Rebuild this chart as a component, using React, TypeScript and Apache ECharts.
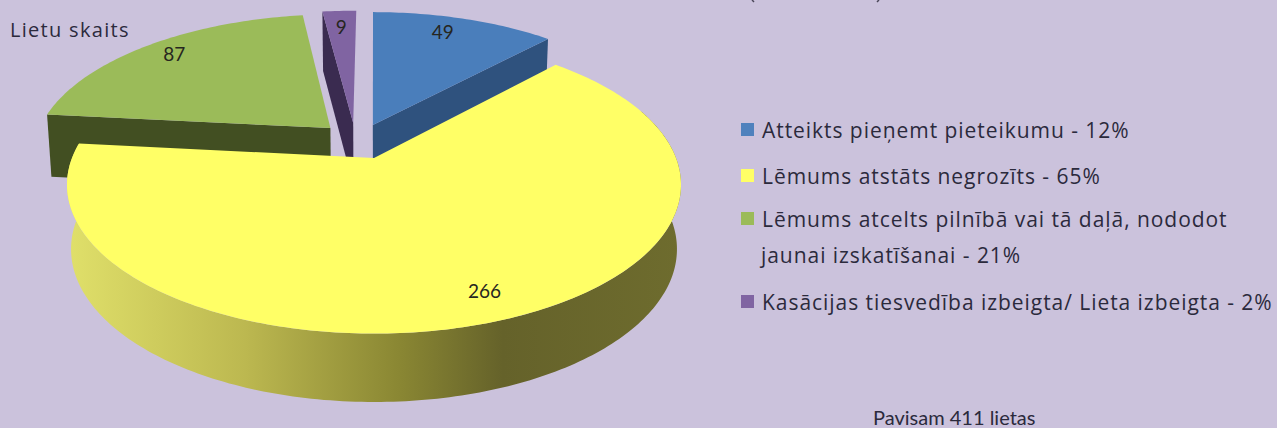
import React, { useEffect, useRef } from "react";
import * as echarts from "echarts";

const categories = [
  "Atteikts pieņemt pieteikumu - 12%",
  "Lēmums atstāts negrozīts - 65%",
  "Lēmums atcelts pilnībā vai tā daļā, nododot",
  "Kasācijas tiesvedība izbeigta/ Lieta izbeigta - 2%",
];
const continuationLine = "jaunai izskatīšanai - 21%";
const values = [49, 266, 87, 9];
const totalLabel = "Pavisam 411 lietas";
const axisCaption = "Lietu skaits";

const topColors = ["#4a7ebb", "#ffff66", "#9bbb59", "#8064a2"];
const wallColors = ["#2f527e", "#6b692e", "#424f22", "#3a2b50"];
// explosion offset of each slice on the disc plane; yellow is the reference
const offsets = [
  [-0.004, 0.239],
  [0, 0],
  [-0.15, 0.216],
  [-0.072, 0.254],
];
const labelTurn = [-2.6, -1.1, 1.4, 0];
const labelRadius = [0.85, 0.85, 0.87, 0.84];
const wallEdge = ["end", "arc", "start", "start"];
const drawOrder = [3, 2, 0, 1];
const legendCentres = [130, 176, 219, 302];

const FONT = "Open Sans";
const TEXT = "#2b2a3c";
const X0 = 374;
const TOP = { a: 302, b: 144, p: 0.18, y0: 158 };
const LOW = { a: 298, b: 148, p: 0.18, y0: 221.5 };

const project = (plane: typeof TOP, u: number, v: number): number[] => {
  const w = 1 + plane.p * v;
  return [X0 + (plane.a * u) / w, plane.y0 - (plane.b * v) / w];
};

const total = values.reduce((s, v) => s + v, 0);
const startAngle = (i: number) =>
  (values.slice(0, i).reduce((s, v) => s + v, 0) / total) * Math.PI * 2;

const onDisc = (i: number, theta: number, r = 1): number[] => [
  offsets[i][0] + r * Math.sin(theta),
  offsets[i][1] + r * Math.cos(theta),
];

const arcPoints = (plane: typeof TOP, i: number, a0: number, a1: number) => {
  const n = Math.max(2, Math.ceil(((a1 - a0) * 180) / Math.PI));
  const pts: number[][] = [];
  for (let k = 0; k <= n; k++) {
    const [u, v] = onDisc(i, a0 + ((a1 - a0) * k) / n);
    pts.push(project(plane, u, v));
  }
  return pts;
};

const renderSlice = (i: number) => (_params: any, api: any) => {
  const a0 = startAngle(i);
  const a1 = a0 + (api.value(0) / total) * Math.PI * 2;
  const children: any[] = [];
  const [ou, ov] = offsets[i];
  const apexTop = project(TOP, ou, ov);
  const apexLow = project(LOW, ou, ov);
  if (wallEdge[i] === "arc") {
    const from = (70 * Math.PI) / 180;
    const up = arcPoints(TOP, i, from, a1);
    const lo = arcPoints(LOW, i, from, a1);
    children.push({
      type: "polygon",
      shape: { points: [...up, ...lo.reverse()] },
      style: {
        fill: new echarts.graphic.LinearGradient(0, 0, 1, 0, [
          { offset: 0, color: "#e0e06a" },
          { offset: 0.29, color: "#bcb850" },
          { offset: 0.54, color: "#8a8733" },
          { offset: 0.71, color: "#65622a" },
          { offset: 1, color: "#6e6c2e" },
        ]),
      },
    });
  } else {
    const edge = wallEdge[i] === "start" ? a0 : a1;
    const [u, v] = onDisc(i, edge);
    children.push({
      type: "polygon",
      shape: { points: [apexTop, project(TOP, u, v), project(LOW, u, v), apexLow] },
      style: { fill: wallColors[i] },
    });
  }
  children.push({
    type: "polygon",
    shape: { points: [apexTop, ...arcPoints(TOP, i, a0, a1)] },
    style: { fill: topColors[i] },
  });
  const mid = (a0 + a1) / 2 + (labelTurn[i] * Math.PI) / 180;
  const [lu, lv] = onDisc(i, mid, labelRadius[i]);
  const [lx, ly] = project(TOP, lu, lv);
  children.push({
    type: "text",
    x: lx,
    y: ly,
    style: {
      text: String(api.value(0)),
      fontFamily: "Lato",
      fontSize: 19,
      fill: "#26261f",
      align: "center",
      verticalAlign: "middle",
    },
  });
  return { type: "group", children };
};

const spacing: Record<string, string> = { [axisCaption]: "1.3px", [continuationLine]: "0.95px" };
categories.forEach((c) => (spacing[c] = "0.95px"));

export default function App() {
  const ref = useRef<HTMLDivElement>(null);
  useEffect(() => {
    document.body.style.margin = "0";
    const chart = echarts.init(ref.current!, null, { renderer: "svg" });
    const applySpacing = () => {
      ref.current?.querySelectorAll("text").forEach((t) => {
        const s = spacing[t.textContent || ""];
        if (s) t.style.letterSpacing = s;
      });
    };
    chart.on("finished", applySpacing);
    chart.setOption({
      animation: false,
      backgroundColor: "#cbc2dc",
      legend: categories.map((name, i) => ({
        data: [{ name, icon: "rect" }],
        left: 741,
        top: legendCentres[i] - 11,
        itemWidth: 13,
        itemHeight: 13,
        itemGap: 0,
        padding: 0,
        selectedMode: false,
        textStyle: { fontFamily: FONT, fontSize: 21, color: TEXT, padding: [0, 0, 0, 3] },
      })),
      series: drawOrder.map((i) => ({
        type: "custom",
        name: categories[i],
        coordinateSystem: "none",
        silent: true,
        itemStyle: { color: i === 0 ? "#4f81bd" : topColors[i] },
        data: [values[i]],
        renderItem: renderSlice(i),
      })),
      graphic: [
        { type: "text", x: 10, y: 29, style: { text: axisCaption, fontFamily: FONT, fontSize: 20, fill: TEXT, verticalAlign: "middle" } },
        { type: "text", x: 761, y: 255, style: { text: continuationLine, fontFamily: FONT, fontSize: 21, fill: TEXT, verticalAlign: "middle" } },
        { type: "text", x: 873, y: 417, style: { text: totalLabel, fontFamily: "Lato", fontSize: 20, lineHeight: 20, fill: TEXT, verticalAlign: "middle" } },
        { type: "line", shape: { x1: 752, y1: 0, x2: 754, y2: 2 }, style: { stroke: "#4a4658", lineWidth: 1.5 } },
        { type: "line", shape: { x1: 879, y1: 0, x2: 877, y2: 2 }, style: { stroke: "#4a4658", lineWidth: 1.5 } },
      ],
    });
    applySpacing();
    return () => chart.dispose();
  }, []);
  return <div ref={ref} style={{ position: "fixed", left: 0, top: 0, width: 1277, height: 428 }} />;
}
